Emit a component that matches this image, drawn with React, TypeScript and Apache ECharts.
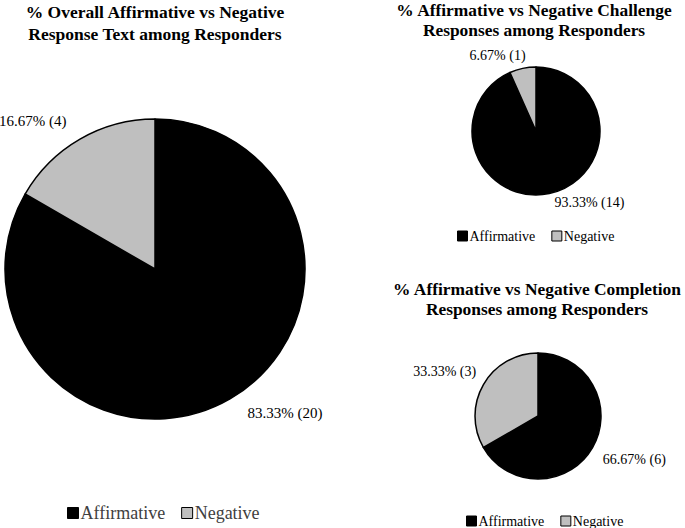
import React, { useEffect, useRef } from "react";
import * as echarts from "echarts";

const categories = ["Affirmative", "Negative"];
const overallCounts = [20, 4];
const challengeCounts = [14, 1];
const completionCounts = [6, 3];
const overallPct = ["83.33%", "16.67%"];
const challengePct = ["93.33%", "6.67%"];
const completionPct = ["66.67%", "33.33%"];

const colors = ["#000000", "#bfbfbf"];
const FONT = "'Liberation Serif', 'Times New Roman', Times, serif";

// label offsets per chart, per slice
const overallOffsets = [[5, 1], [-1, -5]];
const challengeOffsets = [[-2, -1], [10, -3]];
const completionOffsets = [[-6, 5], [9, -7]];

function buildData(counts: number[], pct: string[]) {
  return categories.map((name, i) => ({
    name,
    value: counts[i],
    pct: pct[i],
    itemStyle: { color: colors[i] },
  }));
}

export default function App() {
  const ref = useRef<HTMLDivElement>(null);
  useEffect(() => {
    const chart = echarts.init(ref.current!, null, { renderer: "svg" });
    const labelFmt = (p: any) => `${p.data.pct} (${p.value})`;
    const baseSeries = (
      center: number[],
      radius: number,
      data: any[],
      len: number,
      fontSize: number,
      offsets: number[][]
    ) => ({
      type: "pie",
      center,
      radius,
      startAngle: 90,
      clockwise: true,
      data,
      itemStyle: { borderColor: "#000", borderWidth: 1.5 },
      label: {
        show: true,
        position: "outside",
        formatter: labelFmt,
        fontFamily: FONT,
        fontSize,
        color: "#000",
        overflow: "none",
        edgeDistance: 0,
      },
      labelLine: { show: false, length: len, length2: 0 },
      labelLayout: (params: any) => {
        const off = offsets[params.dataIndex] || [0, 0];
        return { dx: off[0], dy: off[1] };
      },
      emphasis: { disabled: true },
    });
    chart.setOption({
      animation: false,
      textStyle: { fontFamily: FONT },
      title: [
        {
          text: "% Overall Affirmative vs Negative\nResponse Text among Responders",
          left: 150,
          top: -4,
          textAlign: "center",
          textStyle: { fontFamily: FONT, fontSize: 17.5, fontWeight: "bold", color: "#000", lineHeight: 22 },
        },
        {
          text: "% Affirmative vs Negative Challenge\nResponses among Responders",
          left: 529,
          top: -5,
          textAlign: "center",
          textStyle: { fontFamily: FONT, fontSize: 17.4, fontWeight: "bold", color: "#000", lineHeight: 20 },
        },
        {
          text: "% Affirmative vs Negative Completion\nResponses among Responders",
          left: 532,
          top: 274,
          textAlign: "center",
          textStyle: { fontFamily: FONT, fontSize: 17.4, fontWeight: "bold", color: "#000", lineHeight: 20 },
        },
      ],
      legend: [
        {
          data: categories,
          left: 62,
          top: 499,
          icon: "rect",
          itemWidth: 11,
          itemHeight: 11,
          itemGap: 16,
          textStyle: { fontFamily: FONT, fontSize: 18, color: "#404040", padding: [0, 0, 0, -3] },
          selectedMode: false,
          itemStyle: { borderColor: "#000", borderWidth: 1 },
        },
        {
          data: categories,
          left: 452,
          top: 224,
          icon: "rect",
          itemWidth: 10,
          itemHeight: 10,
          itemGap: 16,
          textStyle: { fontFamily: FONT, fontSize: 14, color: "#000", padding: [0, 0, 0, -3] },
          selectedMode: false,
          itemStyle: { borderColor: "#000", borderWidth: 1 },
        },
        {
          data: categories,
          left: 461,
          top: 509,
          icon: "rect",
          itemWidth: 10,
          itemHeight: 10,
          itemGap: 16,
          textStyle: { fontFamily: FONT, fontSize: 14, color: "#000", padding: [0, 0, 0, -3] },
          selectedMode: false,
          itemStyle: { borderColor: "#000", borderWidth: 1 },
        },
      ],
      series: [
        baseSeries([155, 269], 150, buildData(overallCounts, overallPct), 15, 15, overallOffsets),
        baseSeries([536, 131], 64, buildData(challengeCounts, challengePct), 10, 14, challengeOffsets),
        baseSeries([538, 416], 63, buildData(completionCounts, completionPct), 13, 14, completionOffsets),
      ],
    } as any);
    return () => chart.dispose();
  }, []);
  return (
    <div
      ref={ref}
      style={{ position: "fixed", left: 0, top: 0, width: 685, height: 528, background: "#fff" }}
    />
  );
}
